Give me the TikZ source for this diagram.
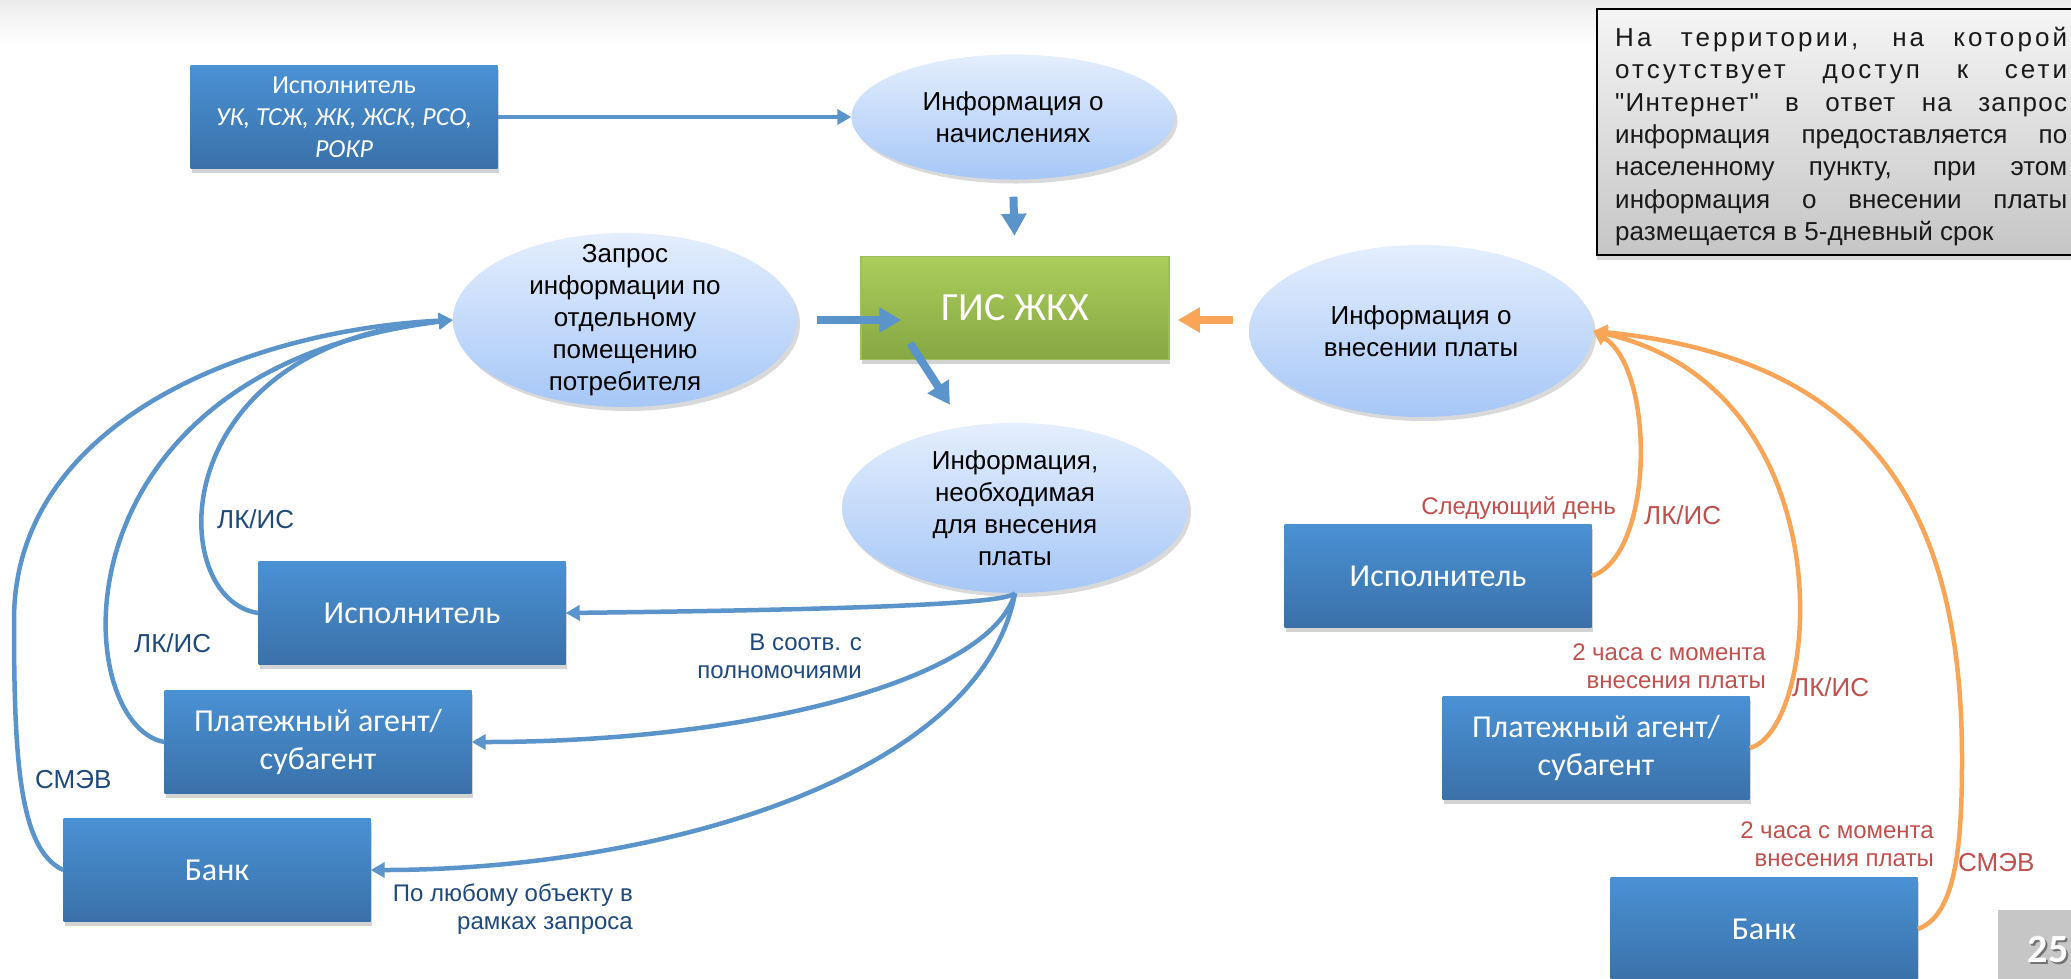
\documentclass[tikz,border=0pt]{standalone}
\usepackage{fontspec}
\setmainfont{Liberation Sans}[Ligatures=TeXOff]
\newfontfamily\calibri{Carlito}
\usetikzlibrary{arrows.meta,shapes.geometric,shadows,calc}

\definecolor{boxtop}{HTML}{4A91D4}
\definecolor{boxbot}{HTML}{3A71A9}
\definecolor{ovaltop}{HTML}{E4EEFD}
\definecolor{ovalbot}{HTML}{A6C7F7}
\definecolor{gistop}{HTML}{ABCD5B}
\definecolor{gisbot}{HTML}{86A743}
\definecolor{gisedge}{HTML}{9CC05A}
\definecolor{linkblue}{HTML}{5B93CB}
\definecolor{linkorange}{HTML}{F9A557}
\definecolor{noteblue}{HTML}{1F497D}
\definecolor{notered}{HTML}{C0504D}

\tikzset{
  actor/.style={rectangle, top color=boxtop, bottom color=boxbot, draw=none,
    minimum width=307pt, minimum height=103pt, inner sep=0pt, text=white, align=center,
    font=\calibri\fontsize{32}{38}\selectfont,
    drop shadow={opacity=0.35, shadow xshift=1pt, shadow yshift=-4pt}},
  hub/.style={rectangle, top color=gistop, bottom color=gisbot, draw=gisedge, line width=1.5pt,
    minimum width=308pt, minimum height=103pt, inner sep=0pt, text=white,
    font=\calibri\fontsize{40}{48}\selectfont,
    drop shadow={opacity=0.35, shadow xshift=1pt, shadow yshift=-4pt}},
  oval/.style={ellipse, top color=ovaltop, bottom color=ovalbot, draw=none, inner sep=0pt,
    drop shadow={opacity=0.3, shadow xshift=3pt, shadow yshift=-4pt}},
  ovaltext/.style={align=center, inner sep=0pt, font=\fontsize{26}{32}\selectfont},
  lk/.style={text=noteblue, inner sep=0pt, font=\fontsize{26}{30}\selectfont},
  remark/.style={text=noteblue, align=right, inner sep=0pt, font=\fontsize{24}{28}\selectfont},
  link/.style={draw=linkblue, line width=4.5pt, -{Triangle[width=15pt,length=14pt]}},
  olink/.style={link, draw=linkorange},
  flow/.style={draw=linkblue, line width=8pt, -{Triangle[width=24pt,length=22pt]}},
  oflow/.style={flow, draw=linkorange},
  notebox/.style={rectangle, top color=gray!8, bottom color=gray!45, draw=black, line width=2pt,
    inner sep=0pt, drop shadow={opacity=0.3, shadow xshift=0pt, shadow yshift=-5pt}},
}

\begin{document}
\begin{tikzpicture}[x=1pt,y=-1pt]
  \useasboundingbox (0,0) rectangle (2071,978);
  \fill[top color=gray!15, bottom color=white] (0,0) rectangle (2071,45); %slide header

  % centre of the scheme
  \node[actor, font=\calibri\fontsize{26}{32}\selectfont] (topisp) at (344,117)
       {Исполнитель\\\textit{УК, ТСЖ, ЖК, ЖСК, РСО,}\\\textit{РОКР}};
  \node[oval, minimum width=323pt, minimum height=125pt] (nach) at (1013,117) {};
  \node[ovaltext] (nachT) at (nach) {Информация о\\начислениях};
  \node[hub] (gis) at (1015,308) {ГИС ЖКХ};
  \node[oval, minimum width=344pt, minimum height=174pt] (zapros) at (625,320) {};
  \node[ovaltext] (zaprosT) at (zapros) {Запрос\\информации по\\отдельному\\помещению\\потребителя};
  \node[oval, minimum width=344pt, minimum height=172pt] (vnes) at (1421,331) {};
  \node[ovaltext] (vnesT) at (vnes) {Информация о\\внесении платы};
  \node[oval, minimum width=346pt, minimum height=170pt] (info) at (1015,508) {};
  \node[ovaltext] (infoT) at (info) {Информация,\\необходимая\\для внесения\\платы};

  % left side
  \node[actor] (ispL) at (412,613) {Исполнитель};
  \node[actor] (agentL) at (318,742) {Платежный агент/\\субагент};
  \node[actor] (bankL) at (217,870) {Банк};

  % right side
  \node[actor] (ispR) at (1438,576) {Исполнитель};
  \node[actor] (agentR) at (1596,748) {Платежный агент/\\субагент};
  \node[actor] (bankR) at (1764,929) {Банк};

  % note and page number
  \node[notebox, anchor=north west, minimum width=490pt, minimum height=246pt] (note) at (1596,8) {};
  \node[anchor=north west, inner sep=0pt, align=left, text=black!90, font=\fontsize{26}{32.3}\selectfont] (noteT) at (1615,27)
       {\makebox[452pt][s]{\addfontfeature{LetterSpace=12}На территории, на которой}\\
        \makebox[452pt][s]{\addfontfeature{LetterSpace=12}отсутствует доступ к сети}\\
        \makebox[452pt][s]{\addfontfeature{LetterSpace=5}"Интернет" в ответ на запрос}\\
        \makebox[452pt][s]{информация предоставляется по}\\
        \makebox[452pt][s]{населенному пункту, при этом}\\
        \makebox[452pt][s]{информация о внесении платы}\\
        размещается в 5-дневный срок};
  \fill[gray!45] (1998,910) rectangle (2080,985); %page box
  \node[text=black!55, font=\calibri\bfseries\fontsize{40}{40}\selectfont] (pageS) at (2050,952) {25};
  \node[text=white, font=\calibri\bfseries\fontsize{40}{40}\selectfont] (pageT) at (2048,950) {25};

  % straight arrows
  \draw[link] (topisp.east) -- (nach.west);
  \draw[flow, shorten <=17pt, shorten >=20pt] (nach.south) -- (gis.north);
  \draw[flow, shorten <=20pt] (zapros.east) -- ($(zapros.east -| gis.west)+(41,0)$);
  \draw[oflow, shorten <=16pt, shorten >=8pt] (vnes.west |- zapros.east) -- (gis.east |- zapros.east);
  \draw[flow] ($(gis.south)+(-105,-17)$) -- ($(info.north)+(-65,-18)$);

  % requests into zapros
  \draw[link] (ispL.west) .. controls +(-93,-13) and +(-292,25) .. (zapros.west);
  \draw[link] (agentL.west) .. controls +(-95,-17) and +(-407,50) .. (zapros.west);
  \draw[link] (bankL.west) .. controls +(-44,-20) and +(0,140) .. (14,620)
                           .. controls +(0,-200) and +(-202,10) .. (zapros.west);

  % answers from info
  \draw[link] (info.south) .. controls +(-10,12) and +(250,-3) .. (ispL.east);
  \draw[link] (info.south) .. controls +(-25,87) and +(278,0) .. (agentL.east);
  \draw[link] (info.south) .. controls +(-35,187) and +(279,0) .. (bankL.east);

  % payments into vnes
  \draw[olink] (ispR.east) .. controls +(63,-21) and +(62,39) .. (vnes.east);
  \draw[olink] (agentR.east) .. controls +(71,-18) and +(257,59) .. (vnes.east);
  \draw[olink] (bankR.east) .. controls +(37,-13) and +(0,90) .. (1962,760)
                           .. controls +(0,-240) and +(287,29) .. (vnes.east);

  % labels
  \node[lk, anchor=west] (lk1) at (217,519) {ЛК/ИС};
  \node[lk, anchor=west] (lk2) at (134,643) {ЛК/ИС};
  \node[lk, anchor=west] (smev1) at (35,780) {СМЭВ};
  \node[remark, anchor=east] (rem1) at (862,656) {В соотв. с\\полномочиями};
  \node[remark, anchor=east] (rem2) at (633,909) {По любому объекту в\\рамках запроса};
  \node[remark, text=notered, anchor=east] (day) at (1616,508) {Следующий день};
  \node[lk, text=notered, anchor=west] (lk3) at (1644,515) {ЛК/ИС};
  \node[remark, text=notered, anchor=east] (hours1) at (1766,666) {2 часа с момента\\внесения платы};
  \node[lk, text=notered, anchor=west] (lk4) at (1792,687) {ЛК/ИС};
  \node[remark, text=notered, anchor=east] (hours2) at (1934,844) {2 часа с момента\\внесения платы};
  \node[lk, text=notered, anchor=west] (smev2) at (1958,863) {СМЭВ};
\end{tikzpicture}
\end{document}
